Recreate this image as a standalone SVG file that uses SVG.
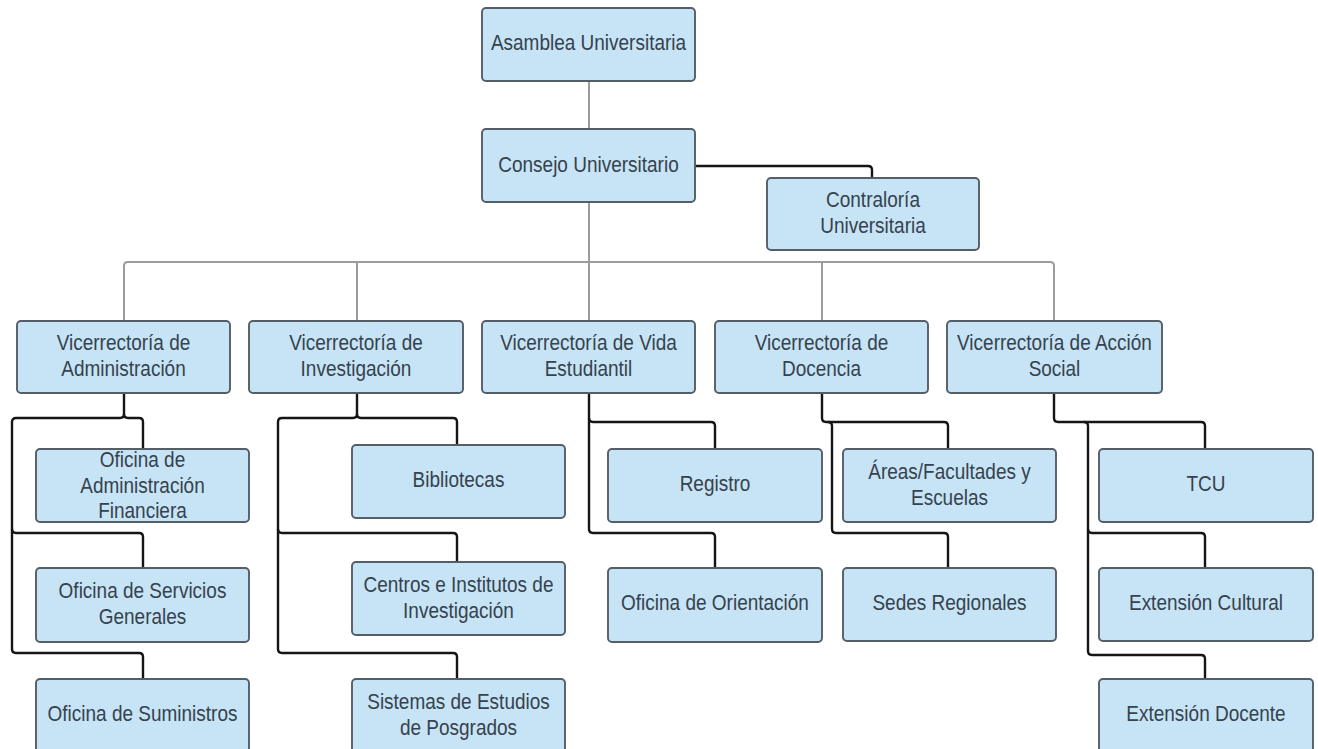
<svg xmlns="http://www.w3.org/2000/svg" width="1318" height="749" viewBox="0 0 1318 749">
<style>
.box{fill:#c6e4f6;stroke:#535e67;stroke-width:1.9}
.t{font-family:"Liberation Sans",Arial,sans-serif;font-size:19px;fill:#36424d;text-anchor:middle}
.g{fill:none;stroke:#9c9c9c;stroke-width:2}
.k{fill:none;stroke:#151515;stroke-width:2.4}
</style>
<rect width="1318" height="749" fill="#ffffff"/>
<g id="connectors">
<path class="g" d="M589,81 V129"/>
<path class="g" d="M589,202 V321"/>
<path class="g" d="M124,321 V266 Q124,262 128,262 H1050 Q1054,262 1054,266 V321"/>
<path class="g" d="M357,262 V321"/>
<path class="g" d="M822,262 V321"/>
<path class="k" d="M695,166 H868 Q872,166 872,170 V178"/>
<path class="k" d="M124,393 V414 Q124,418 120,418 H16 Q12,418 12,422 V649 Q12,653 16,653 H139 Q143,653 143,657 V679"/>
<path class="k" d="M124,414 Q124,418 128,418 H139 Q143,418 143,422 V449"/>
<path class="k" d="M12,529 Q12,533 16,533 H139 Q143,533 143,537 V568"/>
<path class="k" d="M357,393 V414 Q357,418 353,418 H282 Q278,418 278,422 V649 Q278,653 282,653 H453 Q457,653 457,657 V679"/>
<path class="k" d="M357,414 Q357,418 361,418 H453 Q457,418 457,422 V445"/>
<path class="k" d="M278,529 Q278,533 282,533 H453 Q457,533 457,537 V562"/>
<path class="k" d="M589,393 V529 Q589,533 593,533 H711 Q715,533 715,537 V568"/>
<path class="k" d="M589,418 Q589,422 593,422 H711 Q715,422 715,426 V449"/>
<path class="k" d="M822,393 V418 Q822,422 826,422 H944 Q948,422 948,426 V449"/>
<path class="k" d="M828,422 Q832,422 832,426 V529 Q832,533 836,533 H944 Q948,533 948,537 V568"/>
<path class="k" d="M1054,393 V418 Q1054,422 1058,422 H1201 Q1205,422 1205,426 V449"/>
<path class="k" d="M1084,422 Q1088,422 1088,426 V651 Q1088,655 1092,655 H1201 Q1205,655 1205,659 V679"/>
<path class="k" d="M1088,529 Q1088,533 1092,533 H1201 Q1205,533 1205,537 V568"/>
</g>
<g id="asamblea"><rect class="box" x="482" y="8" width="213" height="73" rx="4"/><text class="t" x="588.5" y="50" transform="matrix(1 0 0 1.2 0 -10)">Asamblea Universitaria</text></g>
<g id="consejo"><rect class="box" x="482" y="129" width="213" height="73" rx="4"/><text class="t" x="588.5" y="172" transform="matrix(1 0 0 1.2 0 -34.4)">Consejo Universitario</text></g>
<g id="contraloria"><rect class="box" x="767" y="178" width="212" height="72" rx="4"/><text class="t" x="873" y="207.5" transform="matrix(1 0 0 1.2 0 -41.5)">Contraloría</text><text class="t" x="873" y="233.5" transform="matrix(1 0 0 1.2 0 -46.7)">Universitaria</text></g>
<g id="vr-admin"><rect class="box" x="17" y="321" width="213" height="72" rx="4"/><text class="t" x="123.5" y="350.5" transform="matrix(1 0 0 1.2 0 -70.1)">Vicerrectoría de</text><text class="t" x="123.5" y="376.5" transform="matrix(1 0 0 1.2 0 -75.3)">Administración</text></g>
<g id="vr-inv"><rect class="box" x="249" y="321" width="214" height="72" rx="4"/><text class="t" x="356" y="350.5" transform="matrix(1 0 0 1.2 0 -70.1)">Vicerrectoría de</text><text class="t" x="356" y="376.5" transform="matrix(1 0 0 1.2 0 -75.3)">Investigación</text></g>
<g id="vr-vida"><rect class="box" x="482" y="321" width="213" height="72" rx="4"/><text class="t" x="588.5" y="350.5" transform="matrix(1 0 0 1.2 0 -70.1)">Vicerrectoría de Vida</text><text class="t" x="588.5" y="376.5" transform="matrix(1 0 0 1.2 0 -75.3)">Estudiantil</text></g>
<g id="vr-doc"><rect class="box" x="715" y="321" width="213" height="72" rx="4"/><text class="t" x="821.5" y="350.5" transform="matrix(1 0 0 1.2 0 -70.1)">Vicerrectoría de</text><text class="t" x="821.5" y="376.5" transform="matrix(1 0 0 1.2 0 -75.3)">Docencia</text></g>
<g id="vr-accion"><rect class="box" x="947" y="321" width="215" height="72" rx="4"/><text class="t" x="1054.5" y="350.5" transform="matrix(1 0 0 1.2 0 -70.1)">Vicerrectoría de Acción</text><text class="t" x="1054.5" y="376.5" transform="matrix(1 0 0 1.2 0 -75.3)">Social</text></g>
<g id="adm-fin"><rect class="box" x="36" y="449" width="213" height="73" rx="4"/><text class="t" x="142.5" y="467" transform="matrix(1 0 0 1.2 0 -93.4)">Oficina de</text><text class="t" x="142.5" y="493" transform="matrix(1 0 0 1.2 0 -98.6)">Administración</text><text class="t" x="142.5" y="518" transform="matrix(1 0 0 1.2 0 -103.6)">Financiera</text></g>
<g id="serv-gen"><rect class="box" x="36" y="568" width="213" height="74" rx="4"/><text class="t" x="142.5" y="598" transform="matrix(1 0 0 1.2 0 -119.6)">Oficina de Servicios</text><text class="t" x="142.5" y="624" transform="matrix(1 0 0 1.2 0 -124.8)">Generales</text></g>
<g id="suministros"><rect class="box" x="36" y="679" width="213" height="74" rx="4"/><text class="t" x="142.5" y="721" transform="matrix(1 0 0 1.2 0 -144.2)">Oficina de Suministros</text></g>
<g id="bibliotecas"><rect class="box" x="352" y="445" width="213" height="73" rx="4"/><text class="t" x="458.5" y="487" transform="matrix(1 0 0 1.2 0 -97.4)">Bibliotecas</text></g>
<g id="centros"><rect class="box" x="352" y="562" width="213" height="73" rx="4"/><text class="t" x="458.5" y="592" transform="matrix(1 0 0 1.2 0 -118.4)">Centros e Institutos de</text><text class="t" x="458.5" y="618" transform="matrix(1 0 0 1.2 0 -123.6)">Investigación</text></g>
<g id="sistemas"><rect class="box" x="352" y="679" width="213" height="74" rx="4"/><text class="t" x="458.5" y="709" transform="matrix(1 0 0 1.2 0 -141.8)">Sistemas de Estudios</text><text class="t" x="458.5" y="735" transform="matrix(1 0 0 1.2 0 -147)">de Posgrados</text></g>
<g id="registro"><rect class="box" x="608" y="449" width="214" height="73" rx="4"/><text class="t" x="715" y="491" transform="matrix(1 0 0 1.2 0 -98.2)">Registro</text></g>
<g id="orientacion"><rect class="box" x="608" y="568" width="214" height="74" rx="4"/><text class="t" x="715" y="610" transform="matrix(1 0 0 1.2 0 -122)">Oficina de Orientación</text></g>
<g id="areas"><rect class="box" x="843" y="449" width="213" height="73" rx="4"/><text class="t" x="949.5" y="479" transform="matrix(1 0 0 1.2 0 -95.8)">Áreas/Facultades y</text><text class="t" x="949.5" y="505" transform="matrix(1 0 0 1.2 0 -101)">Escuelas</text></g>
<g id="sedes"><rect class="box" x="843" y="568" width="213" height="73" rx="4"/><text class="t" x="949.5" y="610" transform="matrix(1 0 0 1.2 0 -122)">Sedes Regionales</text></g>
<g id="tcu"><rect class="box" x="1099" y="449" width="214" height="73" rx="4"/><text class="t" x="1206" y="491" transform="matrix(1 0 0 1.2 0 -98.2)">TCU</text></g>
<g id="ext-cultural"><rect class="box" x="1099" y="568" width="214" height="73" rx="4"/><text class="t" x="1206" y="610" transform="matrix(1 0 0 1.2 0 -122)">Extensión Cultural</text></g>
<g id="ext-docente"><rect class="box" x="1099" y="679" width="214" height="74" rx="4"/><text class="t" x="1206" y="721" transform="matrix(1 0 0 1.2 0 -144.2)">Extensión Docente</text></g>
</svg>
